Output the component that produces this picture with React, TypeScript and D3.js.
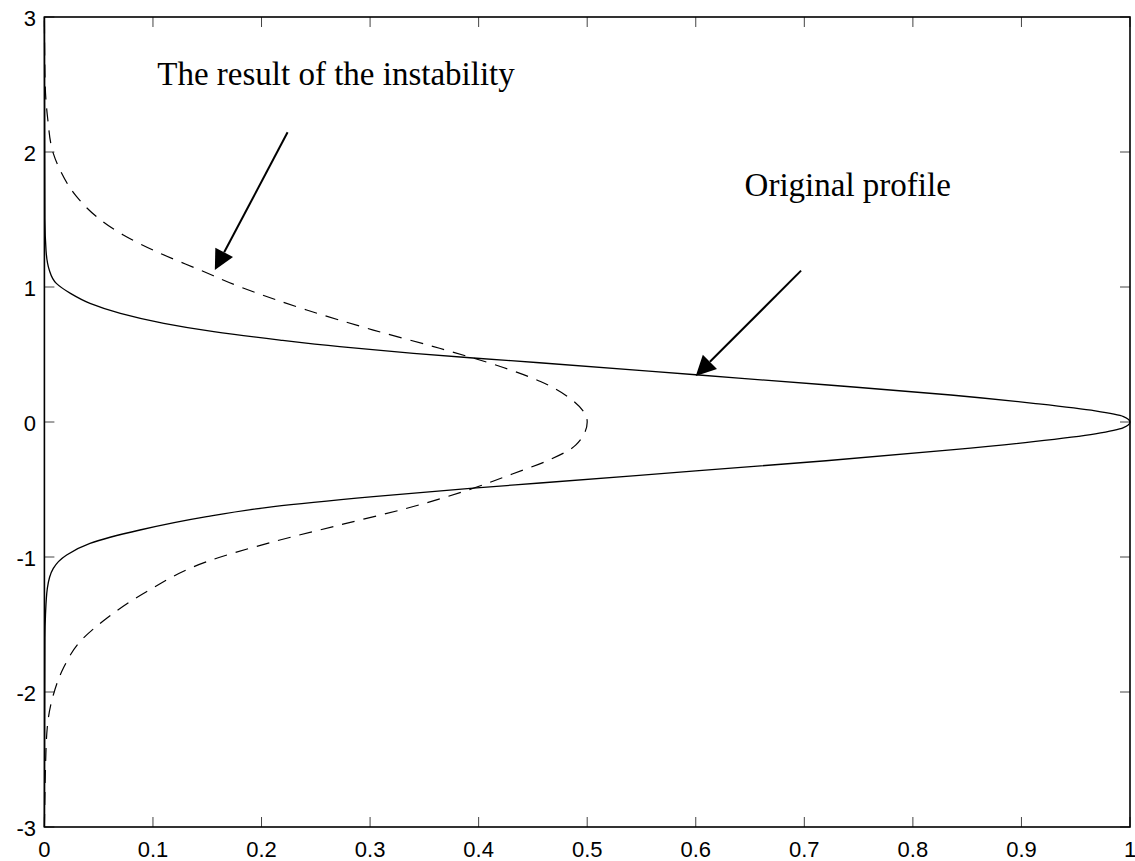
import React from 'react';
import * as d3 from 'd3';

// original profile (solid), ordered by y
const solidX = [0, 0.0005, 0.001, 0.0027, 0.0082, 0.0205, 0.042, 0.088, 0.1495, 0.211, 0.303, 0.395, 0.4565,
  0.6, 0.72, 0.835, 0.911, 0.968, 0.994, 1,
  0.994, 0.968, 0.911, 0.835, 0.722, 0.603, 0.456, 0.395, 0.34, 0.272, 0.217, 0.156, 0.11, 0.07, 0.042,
  0.024, 0.011, 0.0045, 0.0015, 0.0005, 0];
const solidY = [-3, -1.6, -1.43, -1.232, -1.084, -0.985, -0.899, -0.8, -0.701, -0.627, -0.553, -0.49, -0.452,
  -0.362, -0.287, -0.207, -0.146, -0.088, -0.042, 0,
  0.04, 0.082, 0.138, 0.2, 0.274, 0.348, 0.439, 0.474, 0.509, 0.558, 0.607, 0.669, 0.731, 0.805, 0.879,
  0.953, 1.027, 1.126, 1.27, 1.5, 3];

// result of the instability (dashed)
const dashX = [0, 0.0005, 0.001, 0.0027, 0.0082, 0.0174, 0.0328, 0.0574, 0.094, 0.1495, 0.211, 0.272, 0.334, 0.395,
  0.431, 0.465, 0.4896, 0.5,
  0.482, 0.457, 0.4234, 0.364, 0.303, 0.2416, 0.18, 0.1433, 0.1034, 0.0727, 0.048, 0.0297, 0.0144, 0.0082,
  0.003, 0.0006, 0];
const dashY = [-3, -2.75, -2.553, -2.257, -2.022, -1.824, -1.627, -1.454, -1.257, -1.035, -0.887, -0.763, -0.639, -0.491,
  -0.385, -0.281, -0.17, 0,
  0.188, 0.3, 0.402, 0.546, 0.681, 0.83, 1.002, 1.126, 1.261, 1.385, 1.521, 1.669, 1.867, 1.99,
  2.25, 2.53, 3];

const xTicks = [0, 0.1, 0.2, 0.3, 0.4, 0.5, 0.6, 0.7, 0.8, 0.9, 1];
const xTickLabels = ['0', '0.1', '0.2', '0.3', '0.4', '0.5', '0.6', '0.7', '0.8', '0.9', '1'];
const yTicks = [-3, -2, -1, 0, 1, 2, 3];
const yTickLabels = ['-3', '-2', '-1', '0', '1', '2', '3'];

// annotations in data coordinates
const labelTexts = ['The result of the instability', 'Original profile'];
const labelX = [0.104, 0.645];
const labelY = [2.496, 1.674];
const arrowFromX = [0.224, 0.697];
const arrowFromY = [2.146, 1.121];
const arrowToX = [0.157, 0.6];
const arrowToY = [1.126, 0.341];

const W = 1135;
const H = 861;

export default function App() {
  const x = d3.scaleLinear().domain([0, 1]).range([44.4, 1130]);
  const y = d3.scaleLinear().domain([-3, 3]).range([827, 17]);

  const solid = solidX.map((v, i) => [v, solidY[i]] as [number, number]);
  const dashed = dashX.map((v, i) => [v, dashY[i]] as [number, number]);

  const line = d3.line<[number, number]>()
    .x(d => x(d[0]))
    .y(d => y(d[1]))
    .curve(d3.curveMonotoneY);

  const tickLen = 10;
  const x0 = x(0), x1 = x(1), y0 = y(-3), y1 = y(3);

  const arrows = arrowFromX.map((_, i) => {
    const fx = x(arrowFromX[i]), fy = y(arrowFromY[i]);
    const tx = x(arrowToX[i]), ty = y(arrowToY[i]);
    const len = Math.hypot(tx - fx, ty - fy);
    const ux = (tx - fx) / len, uy = (ty - fy) / len;
    const hl = 20, hw = 10;
    const bx = tx - ux * hl, by = ty - uy * hl;
    const head = [
      [tx, ty],
      [bx - uy * hw, by + ux * hw],
      [bx + uy * hw, by - ux * hw],
    ].map(p => p.join(',')).join(' ');
    return { fx, fy, bx, by, head };
  });

  return (
    <svg width={W} height={H} style={{ position: 'absolute', left: 0, top: 0, background: '#fff' }}>
      <rect x={0} y={0} width={W} height={H} fill="#fff" />

      {/* ticks, inward on all four sides */}
      <g stroke="#444" strokeWidth={1}>
        {xTicks.map(t => (
          <g key={'xt' + t}>
            <line x1={x(t)} x2={x(t)} y1={y0} y2={y0 - tickLen} />
            <line x1={x(t)} x2={x(t)} y1={y1} y2={y1 + tickLen} />
          </g>
        ))}
        {yTicks.map(t => (
          <g key={'yt' + t}>
            <line x1={x0} x2={x0 + tickLen} y1={y(t)} y2={y(t)} />
            <line x1={x1} x2={x1 - tickLen} y1={y(t)} y2={y(t)} />
          </g>
        ))}
      </g>

      <path d={line(solid) || ''} fill="none" stroke="#000" strokeWidth={1.3} />
      <path d={line(dashed) || ''} fill="none" stroke="#000" strokeWidth={1.2} strokeDasharray="13,9" />

      {/* axes box */}
      <rect x={x0} y={y1} width={x1 - x0} height={y0 - y1} fill="none" stroke="#000" strokeWidth={1.6} />

      <g fontFamily="'Liberation Sans', Arial, sans-serif" fontSize={22} fill="#000">
        {xTicks.map((t, i) => (
          <text key={'xl' + t} x={x(t)} y={857} textAnchor="middle">{xTickLabels[i]}</text>
        ))}
        {yTicks.map((t, i) => (
          <text key={'yl' + t} x={36} y={y(t) + 9} textAnchor="end">{yTickLabels[i]}</text>
        ))}
      </g>

      {arrows.map((a, i) => (
        <g key={'ar' + i}>
          <line x1={a.fx} y1={a.fy} x2={a.bx} y2={a.by} stroke="#000" strokeWidth={2} />
          <polygon points={a.head} fill="#000" />
        </g>
      ))}

      <g fontFamily="'Liberation Serif', 'Times New Roman', serif" fontSize={33} fill="#000">
        {labelTexts.map((s, i) => (
          <text key={'lb' + i} x={x(labelX[i])} y={y(labelY[i])}>{s}</text>
        ))}
      </g>
    </svg>
  );
}
